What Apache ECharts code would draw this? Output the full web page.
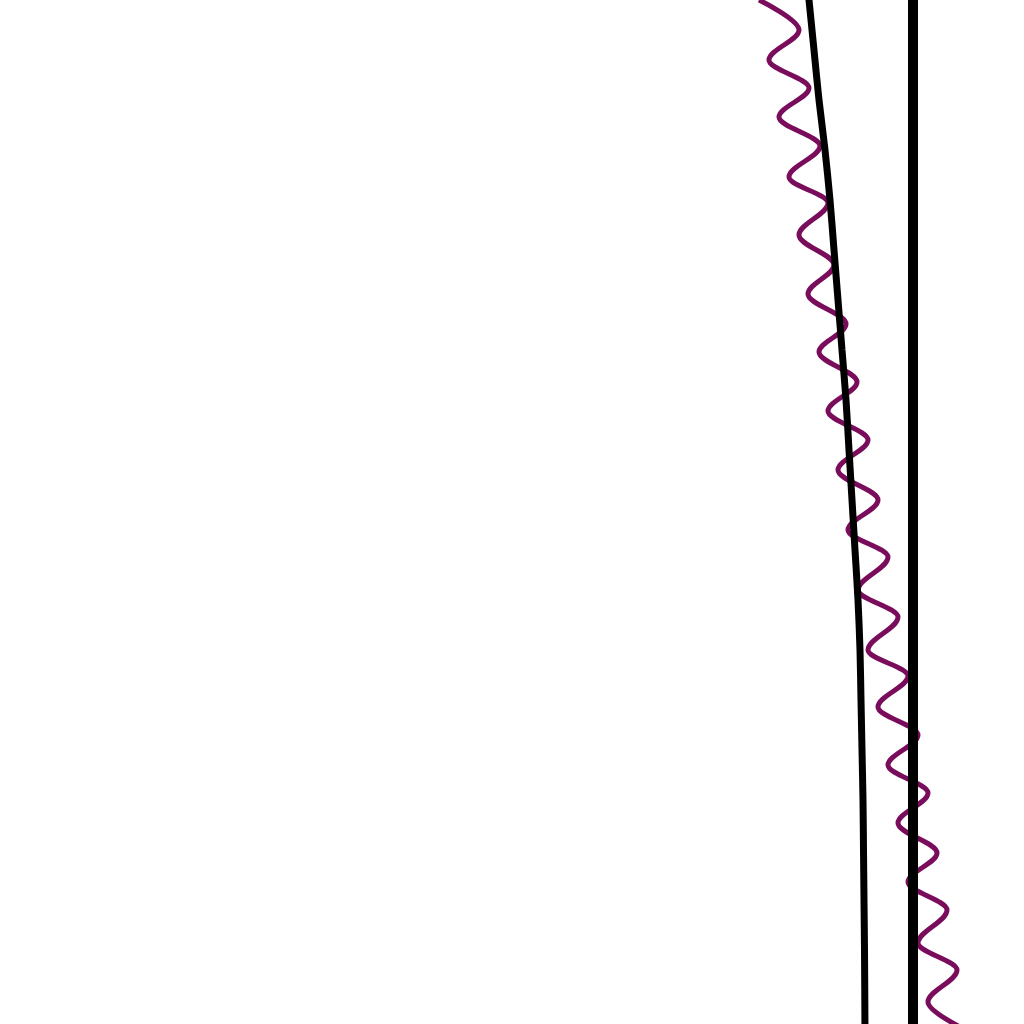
<!DOCTYPE html>
<html>
<head>
<meta charset="utf-8">
<script src="https://cdn.jsdelivr.net/npm/echarts@6/dist/echarts.min.js"></script>
<style>
  html, body { margin: 0; padding: 0; background: #ffffff; }
  #chart { width: 1024px; height: 1024px; }
</style>
</head>
<body>
<div id="chart"></div>
<script>
// Wavy series: alternating extremes [x, y]
const waveX = [759, 799, 769, 809, 779, 820, 789, 828, 799, 834, 808, 846, 819, 857, 828, 868, 838, 878, 848, 888, 858, 898, 868, 908, 878, 918, 888, 928, 898, 937, 908, 947, 918, 957, 928, 966];
const waveY = [0, 30, 60, 88, 117, 146, 177, 203, 235, 265, 294, 324, 352, 382, 411, 440, 470, 500, 530, 557, 590, 617, 650, 676, 707, 735, 765, 793, 823, 853, 882, 910, 943, 970, 1002, 1030];

// Slanted curve [x, y]
const curveX = [808, 814, 819, 825, 830, 834, 838, 842, 846, 849, 852, 855, 858, 860, 861, 862, 863, 863.5, 864, 864.5, 865];
const curveY = [-10, 50, 100, 150, 200, 250, 300, 350, 400, 450, 500, 550, 600, 650, 700, 750, 800, 850, 900, 950, 1034];

// Vertical reference line
const refX = [913, 913];
const refY = [-20, 1044];

const zip = (xs, ys) => xs.map((x, i) => [x, ys[i]]);

const chart = echarts.init(document.getElementById('chart'), null, { renderer: 'canvas' });
chart.setOption({
  animation: false,
  backgroundColor: '#ffffff',
  grid: { left: 0, right: 0, top: 0, bottom: 0, containLabel: false },
  xAxis: { type: 'value', min: 0, max: 1024, show: false },
  yAxis: { type: 'value', min: 0, max: 1024, inverse: true, show: false },
  series: [
    {
      type: 'line',
      data: zip(waveX, waveY),
      smooth: 0.35,
      smoothMonotone: 'y',
      showSymbol: false,
      lineStyle: { color: '#7a0c5c', width: 5 },
      clip: true,
      z: 1
    },
    {
      type: 'line',
      data: zip(curveX, curveY),
      smooth: 0.3,
      showSymbol: false,
      lineStyle: { color: '#000000', width: 7 },
      clip: true,
      z: 2
    },
    {
      type: 'line',
      data: zip(refX, refY),
      showSymbol: false,
      lineStyle: { color: '#000000', width: 10 },
      clip: true,
      z: 3
    }
  ]
});
</script>
</body>
</html>
